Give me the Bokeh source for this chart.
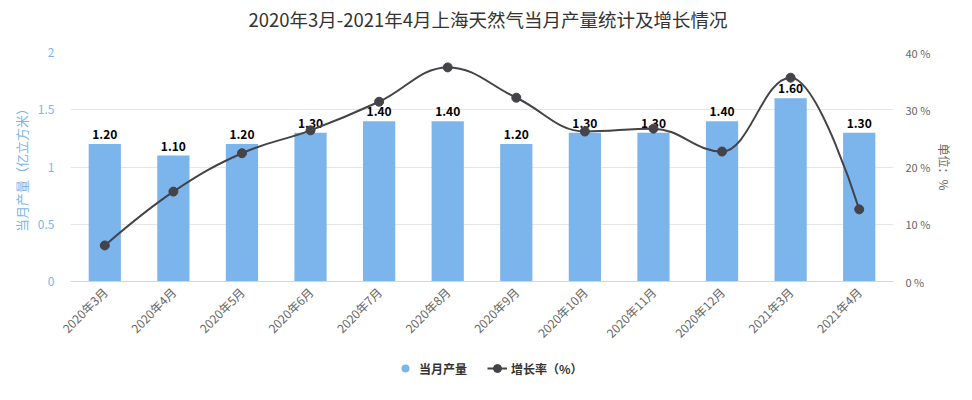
import math
from bokeh.plotting import figure
from bokeh.layouts import column
from bokeh.models import (ColumnDataSource, Range1d, LinearAxis, FixedTicker,
                          CustomJSTickFormatter, Legend, LegendItem, Label)
from bokeh.embed import file_html
from bokeh.resources import INLINE
from bokeh.core.properties import value

title_text = "2020年3月-2021年4月上海天然气当月产量统计及增长情况"
months = ["2020年3月", "2020年4月", "2020年5月", "2020年6月", "2020年7月", "2020年8月",
          "2020年9月", "2020年10月", "2020年11月", "2020年12月", "2021年3月", "2021年4月"]
output = [1.20, 1.10, 1.20, 1.30, 1.40, 1.40, 1.20, 1.30, 1.30, 1.40, 1.60, 1.30]
growth = [6.3, 15.7, 22.4, 26.4, 31.4, 37.4, 32.1, 26.2, 26.7, 22.7, 35.6, 12.6]
left_ticks = [0, 0.5, 1, 1.5, 2]
right_ticks = [0, 10, 20, 30, 40]

FONT = "Noto Sans CJK SC"
BAR = "#7cb5ec"
LINE = "#434348"
W = 956

xs = list(range(len(months)))

# ---- title strip ----
tf = figure(width=W, height=36, output_backend="svg", toolbar_location=None,
            x_range=Range1d(0, W), y_range=Range1d(0, 36), min_border=0,
            outline_line_color=None)
tf.axis.visible = False
tf.grid.grid_line_color = None
tf.add_layout(Label(x=485, y=18, text=title_text, text_align="center", text_baseline="middle",
                    text_font=FONT, text_font_size="18.5px", text_color="#333333"))

# ---- main chart ----
p = figure(width=W, height=314, output_backend="svg", toolbar_location=None,
           x_range=Range1d(-0.5, len(months) - 0.5), y_range=Range1d(0, 2),
           min_border_left=70, min_border_right=63, min_border_top=16, min_border_bottom=69)
p.outline_line_color = None
p.background_fill_color = "white"
p.extra_y_ranges = {"pct": Range1d(0, 40)}

bsrc = ColumnDataSource(dict(x=xs, top=output, lab=[f"{v:.2f}" for v in output]))
p.vbar(x="x", top="top", width=0.47, source=bsrc, fill_color=BAR, line_color=None)
p.text(x="x", y="top", text="lab", source=bsrc, text_align="center", text_baseline="bottom",
       y_offset=-5, text_font=value(FONT), text_font_size="12px", text_font_style="bold",
       text_color="#000000")

# smooth line (Highcharts-style spline control points)
def controls(ys):
    n = len(ys)
    lc = [None] * n
    rc = [None] * n
    sm = 1.5
    den = sm + 1
    for i in range(1, n - 1):
        px, py = xs[i], ys[i]
        lx, ly = xs[i - 1], ys[i - 1]
        nx, ny = xs[i + 1], ys[i + 1]
        lcx = (sm * px + lx) / den
        lcy = (sm * py + ly) / den
        rcx = (sm * px + nx) / den
        rcy = (sm * py + ny) / den
        corr = 0
        if rcx != lcx:
            corr = ((rcy - lcy) * (rcx - px)) / (rcx - lcx) + py - rcy
        lcy += corr
        rcy += corr
        if lcy > ly and lcy > py:
            lcy = max(ly, py); rcy = 2 * py - lcy
        elif lcy < ly and lcy < py:
            lcy = min(ly, py); rcy = 2 * py - lcy
        if rcy > ny and rcy > py:
            rcy = max(ny, py); lcy = 2 * py - rcy
        elif rcy < ny and rcy < py:
            rcy = min(ny, py); lcy = 2 * py - rcy
        lc[i] = (lcx, lcy)
        rc[i] = (rcx, rcy)
    lc[0] = rc[0] = (xs[0], ys[0])
    lc[-1] = rc[-1] = (xs[-1], ys[-1])
    return lc, rc

lc, rc = controls(growth)
m = len(xs) - 1
seg = dict(x0=xs[:-1], y0=growth[:-1], x1=xs[1:], y1=growth[1:],
           cx0=[rc[i][0] for i in range(m)], cy0=[rc[i][1] for i in range(m)],
           cx1=[lc[i + 1][0] for i in range(m)], cy1=[lc[i + 1][1] for i in range(m)])
p.bezier(source=ColumnDataSource(seg), x0="x0", y0="y0", x1="x1", y1="y1",
         cx0="cx0", cy0="cy0", cx1="cx1", cy1="cy1",
         line_color=LINE, line_width=2, y_range_name="pct")
p.scatter(x=xs, y=growth, size=9, fill_color=LINE, line_color=LINE, y_range_name="pct")

xa = p.xaxis[0]
xa.ticker = FixedTicker(ticks=xs)
xa.major_label_overrides = {i: mo for i, mo in enumerate(months)}
xa.major_label_orientation = math.pi / 4
xa.major_label_text_font = FONT
xa.major_label_text_font_size = "12px"
xa.major_label_text_color = "#666666"
xa.axis_line_color = "#ccd6eb"
xa.major_tick_line_color = None
xa.minor_tick_line_color = None
xa.major_tick_out = 0
xa.minor_tick_out = 0
xa.major_label_standoff = 8

ya = p.yaxis[0]
ya.ticker = FixedTicker(ticks=left_ticks)
ya.formatter = CustomJSTickFormatter(code="return tick.toString();")
ya.axis_line_color = None
ya.major_tick_line_color = None
ya.minor_tick_line_color = None
ya.major_tick_out = 0
ya.minor_tick_out = 0
ya.major_label_text_font = FONT
ya.major_label_text_font_size = "12px"
ya.major_label_text_color = BAR
ya.major_label_standoff = 16
ya.axis_label = "当月产量（亿立方米）"
ya.axis_label_text_font = FONT
ya.axis_label_text_font_size = "13px"
ya.axis_label_text_font_style = "normal"
ya.axis_label_text_color = BAR
ya.axis_label_standoff = 4

ra = LinearAxis(y_range_name="pct", ticker=FixedTicker(ticks=right_ticks),
                formatter=CustomJSTickFormatter(code="return tick + ' %';"))
ra.axis_line_color = None
ra.major_tick_line_color = None
ra.minor_tick_line_color = None
ra.major_tick_out = 0
ra.minor_tick_out = 0
ra.major_label_text_font = FONT
ra.major_label_text_font_size = "11px"
ra.major_label_text_color = "#666666"
ra.major_label_standoff = 12
ra.axis_label = "单位：%"
ra.axis_label_text_font = FONT
ra.axis_label_text_font_size = "12px"
ra.axis_label_text_font_style = "normal"
ra.axis_label_text_color = "#666666"
ra.axis_label_standoff = 3
p.add_layout(ra, "right")

p.xgrid.grid_line_color = None
p.ygrid.ticker = FixedTicker(ticks=left_ticks)
p.ygrid.grid_line_color = "#e6e6e6"

# ---- legend strip (proxy glyphs sit outside its visible range) ----
lf = figure(width=W, height=34, output_backend="svg", toolbar_location=None,
            x_range=Range1d(0, 1), y_range=Range1d(0, 1),
            min_border=0, outline_line_color=None)
lf.axis.visible = False
lf.grid.grid_line_color = None
leg_bar = lf.scatter(x=[-5], y=[-5], marker="circle", size=12, fill_color=BAR, line_color=None)
leg_line = lf.line(x=[-5, -4], y=[-5, -5], line_color=LINE, line_width=2)
leg_pt = lf.scatter(x=[-5], y=[-5], marker="circle", size=9, fill_color=LINE, line_color=LINE)
legend = Legend(items=[LegendItem(label="当月产量", renderers=[leg_bar]),
                       LegendItem(label="增长率（%）", renderers=[leg_line, leg_pt])],
                orientation="horizontal", location=(325, 4),
                label_text_font=FONT, label_text_font_size="12px",
                label_text_font_style="bold", label_text_color="#333333",
                border_line_color=None, background_fill_alpha=0,
                glyph_width=20, glyph_height=24, spacing=20, label_standoff=4,
                padding=0, margin=0)
lf.add_layout(legend, "center")

open("out.html", "w").write(file_html(column(tf, p, lf, spacing=0), INLINE))
